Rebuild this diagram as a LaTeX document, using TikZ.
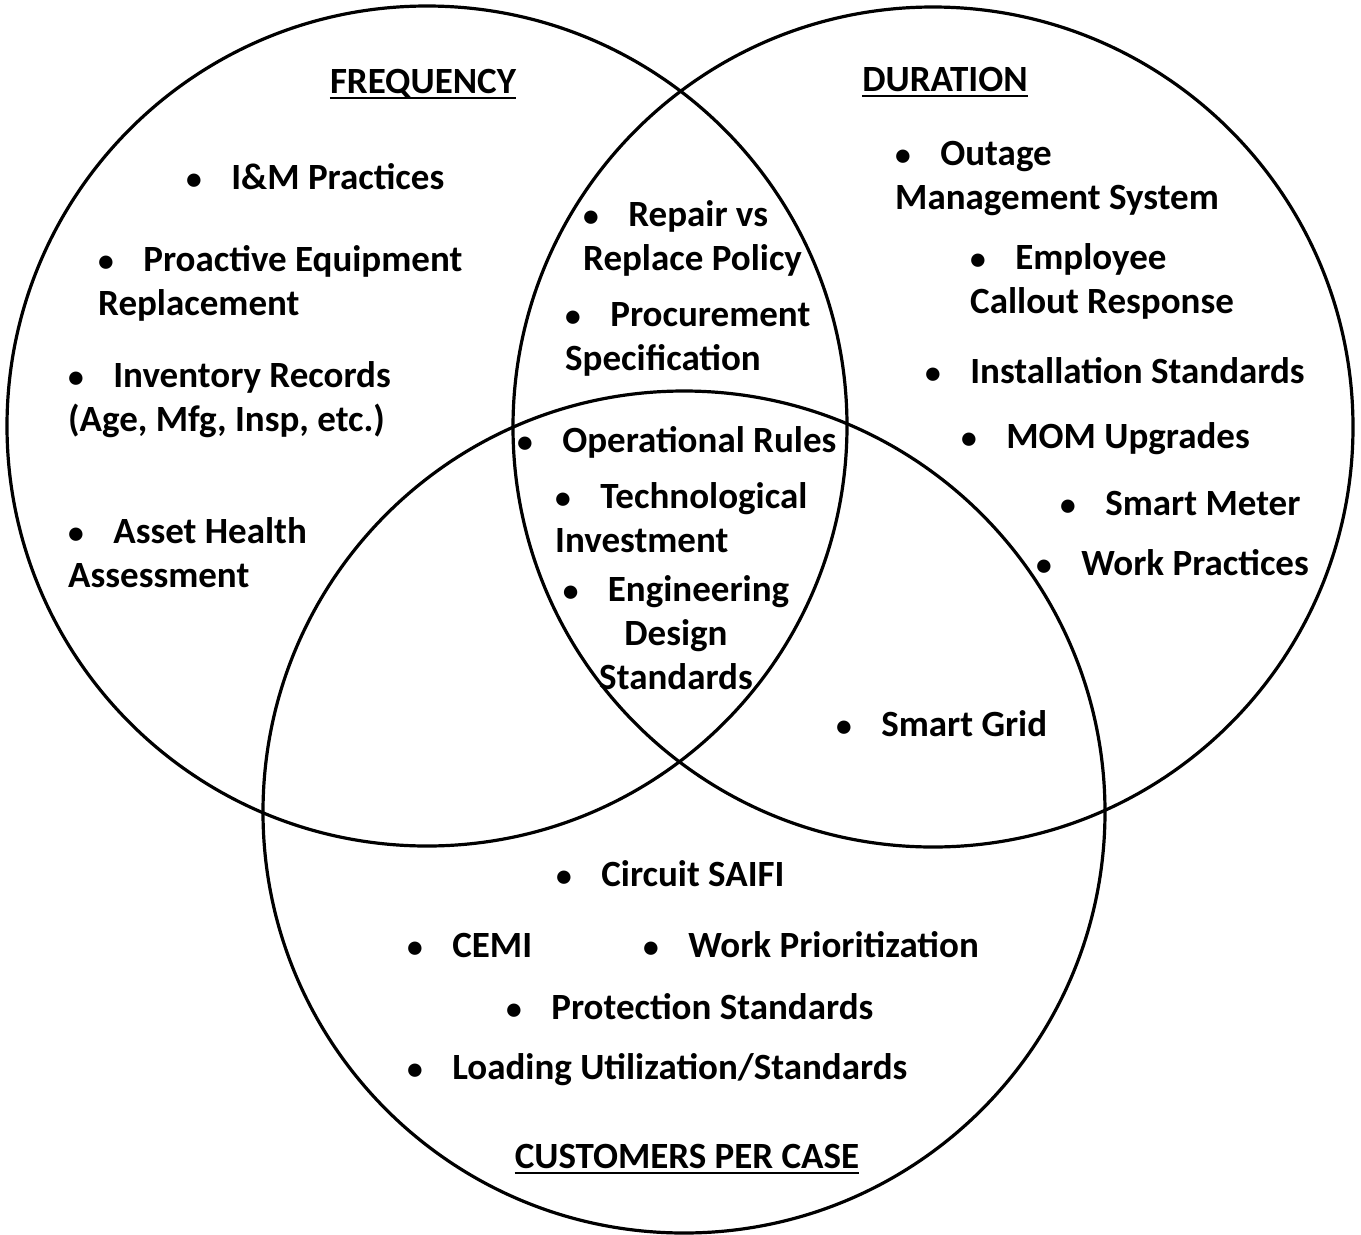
\documentclass[tikz,border=0pt]{standalone}
\usepackage{fontspec}
\setmainfont{Carlito}
\usetikzlibrary{positioning}

\tikzset{
  ring/.style={draw, line width=3.2pt},
  item/.style={anchor=base west, inner sep=0pt, align=left,
    font=\bfseries\fontsize{37}{44}\selectfont},
  heading/.style={anchor=base, inner sep=0pt,
    font=\bfseries\fontsize{37}{44}\selectfont},
}
\newcommand{\bul}{\makebox[1.22em][l]{\scalebox{0.85}{•}}}

\begin{document}
\begin{tikzpicture}[x=1pt,y=-1pt]
\useasboundingbox (0,0) rectangle (1361,1235);

% the three sets
\coordinate (cfreq) at (427,426);
\coordinate (cdur)  at (933,427);
\coordinate (ccust) at (684,812);
\draw[ring] (cfreq) circle[radius=420];
\draw[ring] (cdur)  circle[radius=420];
\draw[ring] (ccust) circle[radius=421];

% headings
\node[heading] (freq) at (423,93)   {FREQUENCY};
\node[heading] (dur)  at (945,91)   {DURATION};
\node[heading] (cust) at (687,1168) {CUSTOMERS PER CASE};
\foreach \h in {freq,dur,cust}
  \draw[line width=2.6pt] ([yshift=-5]\h.base west) -- ([yshift=-5]\h.base east);

% frequency only (base = last line)
\node[item] (im)        at (186,189) {\bul I\&M Practices};
\node[item] (proactive) at (98,315)  {\bul Proactive Equipment\\Replacement};
\node[item] (inventory) at (68,431)  {\bul Inventory Records\\(Age, Mfg, Insp, etc.)};
\node[item] (asset)     at (68,587)  {\bul Asset Health\\Assessment};

% frequency and duration
\node[item] (repair)  at (583,270) {\bul Repair vs\\Replace Policy};
\node[item] (procure) at (565,370) {\bul Procurement\\Specification};

% all three
\node[item] (oprules) at (517,452) {\bul Operational Rules};
\node[item] (techno)  at (555,552) {\bul Technological\\Investment};
\node[item, anchor=base, align=center] (engdesign) at (676,689)
  {\bul Engineering\\Design\\Standards};

% duration only
\node[item] (outage)   at (895,209) {\bul Outage\\Management System};
\node[item] (employee) at (970,313) {\bul Employee\\Callout Response};
\node[item] (install)  at (925,383) {\bul Installation Standards};
\node[item] (mom)      at (961,448) {\bul MOM Upgrades};
\node[item] (smeter)   at (1060,515) {\bul Smart Meter};
\node[item] (workprac) at (1036,575) {\bul Work Practices};

% duration and customers
\node[item] (sgrid) at (836,736) {\bul Smart Grid};

% customers per case only
\node[item] (saifi)   at (556,886)  {\bul Circuit SAIFI};
\node[item] (cemi)    at (407,957)  {\bul CEMI};
\node[item] (prio)    at (643,957)  {\bul Work Prioritization};
\node[item] (protect) at (506,1019) {\bul Protection Standards};
\node[item] (loading) at (407,1079) {\bul Loading Utilization/Standards};

\end{tikzpicture}
\end{document}
